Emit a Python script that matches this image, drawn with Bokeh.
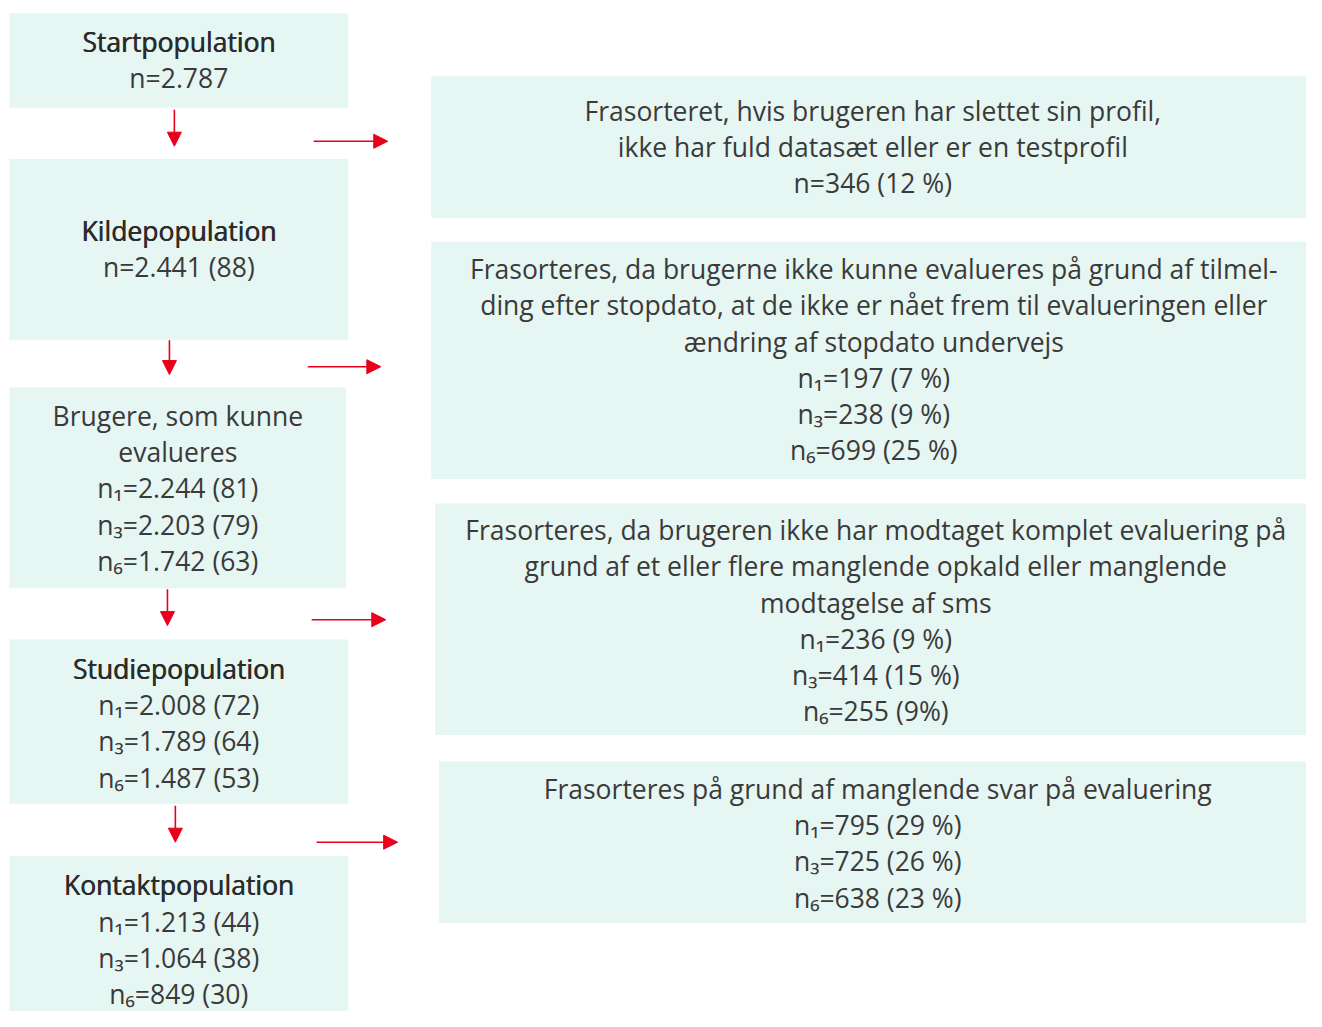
from bokeh.plotting import figure
from bokeh.models import Range1d, Arrow, NormalHead
from bokeh.core.properties import value
from bokeh.embed import file_html
from bokeh.resources import INLINE

# ---------------- data ----------------
left_titles = ["Startpopulation", "Kildepopulation", None, "Studiepopulation", "Kontaktpopulation"]
left_plain = [[], [], ["Brugere, som kunne", "evalueres"], [], []]
left_counts = [
    [("n", "2.787", None)],
    [("n", "2.441", "88")],
    [("n₁", "2.244", "81"), ("n₃", "2.203", "79"), ("n₆", "1.742", "63")],
    [("n₁", "2.008", "72"), ("n₃", "1.789", "64"), ("n₆", "1.487", "53")],
    [("n₁", "1.213", "44"), ("n₃", "1.064", "38"), ("n₆", "849", "30")],
]

right_desc = [
    ["Frasorteret, hvis brugeren har slettet sin profil,",
     "ikke har fuld datasæt eller er en testprofil"],
    ["Frasorteres, da brugerne ikke kunne evalueres på grund af tilmel-",
     "ding efter stopdato, at de ikke er nået frem til evalueringen eller",
     "ændring af stopdato undervejs"],
    ["Frasorteres, da brugeren ikke har modtaget komplet evaluering på",
     "grund af et eller flere manglende opkald eller manglende",
     "modtagelse af sms"],
    ["Frasorteres på grund af manglende svar på evaluering"],
]
right_counts = [
    [("n", "346", "12 %")],
    [("n₁", "197", "7 %"), ("n₃", "238", "9 %"), ("n₆", "699", "25 %")],
    [("n₁", "236", "9 %"), ("n₃", "414", "15 %"), ("n₆", "255", "9%")],
    [("n₁", "795", "29 %"), ("n₃", "725", "26 %"), ("n₆", "638", "23 %")],
]

# ---------------- layout (reference-pixel coordinates) ----------------
FILL = "#e6f6f2"
TXT = "#3a3a3a"
RED = "#e8001c"
FONT = "Open Sans"
FS = "26.5px"
STEP = 36.8

left_boxes = [(9, 352, 13, 109), (9, 352, 161, 345), (9, 350, 393, 597), (9, 352, 649, 816), (9, 352, 869, 1027)]
left_first = [42, 234, 422, 679, 899]
right_boxes = [(436, 1330, 77, 221), (436, 1330, 245, 486), (440, 1330, 511, 746), (444, 1330, 773, 937)]
right_first = [112, 273, 538, 801]
right_cx = [883, 884, 886, 888]

down_arrows = [(176, 111, 148), (171, 345, 380), (169, 598, 635), (177, 818, 855)]
right_arrows = [(143, 317, 392), (372, 311, 385), (629, 315, 390), (855, 320, 402)]

p = figure(width=1306, height=1011, output_backend="svg", toolbar_location=None,
           x_range=Range1d(0, 1322), y_range=Range1d(1027, 0), min_border=0)
p.axis.visible = False
p.grid.visible = False
p.outline_line_color = None
p.background_fill_color = "white"
p.border_fill_color = "white"

boxes = left_boxes + right_boxes
p.quad(left=[b[0] for b in boxes], right=[b[1] for b in boxes],
       top=[b[2] for b in boxes], bottom=[b[3] for b in boxes],
       fill_color=FILL, line_color=None)

def fmt(c):
    sym, n, pct = c
    return f"{sym}={n}" + (f" ({pct})" if pct else "")

tx, ty, tt = [], [], []   # plain lines
hx, hy, ht = [], [], []   # header lines
for i, (x0, x1, y0, y1) in enumerate(left_boxes):
    cx = (x0 + x1) / 2
    y = left_first[i]
    if left_titles[i]:
        hx.append(cx); hy.append(y); ht.append(left_titles[i]); y += STEP
    for line in left_plain[i] + [fmt(c) for c in left_counts[i]]:
        tx.append(cx); ty.append(y); tt.append(line); y += STEP

for i in range(len(right_boxes)):
    y = right_first[i]
    for line in right_desc[i] + [fmt(c) for c in right_counts[i]]:
        tx.append(right_cx[i]); ty.append(y); tt.append(line); y += STEP

p.text(x=tx, y=ty, text=tt, text_font=value(FONT), text_font_size=FS,
       text_color=TXT, text_align="center", text_baseline="middle")
# headers: medium-looking weight (slightly emboldened by a tiny double draw)
for dx in (0, 0.6):
    p.text(x=[v + dx for v in hx], y=hy, text=ht, text_font=value(FONT), text_font_size=FS,
           text_color="#2b2b2b", text_align="center", text_baseline="middle")

for x, ya, yb in down_arrows:
    p.add_layout(Arrow(x_start=x, y_start=ya, x_end=x, y_end=yb, line_color=RED, line_width=1.6,
                       end=NormalHead(size=14, fill_color=RED, line_color=RED)))
for y, xa, xb in right_arrows:
    p.add_layout(Arrow(x_start=xa, y_start=y, x_end=xb, y_end=y, line_color=RED, line_width=1.6,
                       end=NormalHead(size=14, fill_color=RED, line_color=RED)))

open("out.html", "w").write(file_html(p, INLINE))
